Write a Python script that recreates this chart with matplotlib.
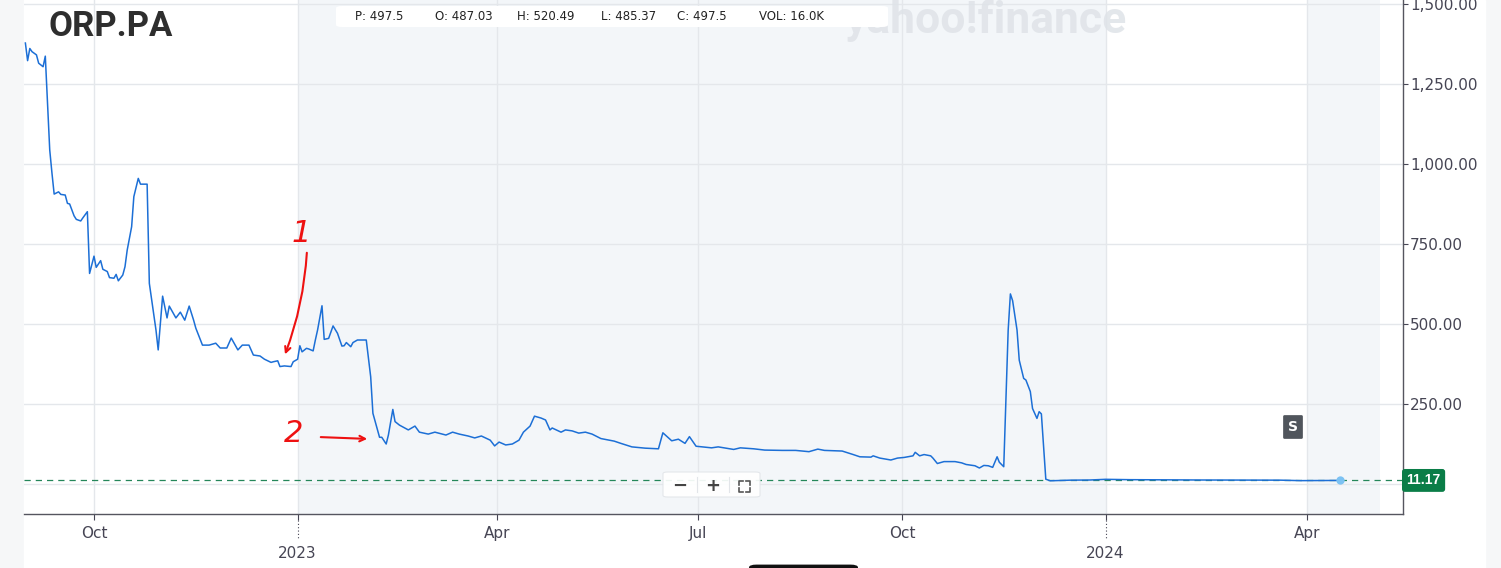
import matplotlib
matplotlib.use("Agg")
import matplotlib.pyplot as plt
import matplotlib.dates as mdates
from matplotlib.patches import FancyBboxPatch, Rectangle
from matplotlib.lines import Line2D
from matplotlib.transforms import blended_transform_factory
import pandas as pd

# ORP.PA daily close
dates = [
    "2022-08-31", "2022-09-01", "2022-09-02", "2022-09-03", "2022-09-05", "2022-09-06",
    "2022-09-08", "2022-09-09", "2022-09-11", "2022-09-12", "2022-09-13", "2022-09-15",
    "2022-09-16", "2022-09-18", "2022-09-19", "2022-09-20", "2022-09-22", "2022-09-23",
    "2022-09-25", "2022-09-26", "2022-09-28", "2022-09-29", "2022-10-01", "2022-10-02",
    "2022-10-04", "2022-10-05", "2022-10-07", "2022-10-08", "2022-10-10", "2022-10-11",
    "2022-10-12", "2022-10-14", "2022-10-15", "2022-10-16", "2022-10-18", "2022-10-19",
    "2022-10-21", "2022-10-22", "2022-10-25", "2022-10-26", "2022-10-29", "2022-10-30",
    "2022-11-01", "2022-11-03", "2022-11-04", "2022-11-07", "2022-11-09", "2022-11-11",
    "2022-11-13", "2022-11-15", "2022-11-16", "2022-11-19", "2022-11-22", "2022-11-25",
    "2022-11-27", "2022-11-30", "2022-12-02", "2022-12-05", "2022-12-07", "2022-12-10",
    "2022-12-12", "2022-12-15", "2022-12-17", "2022-12-20", "2022-12-21", "2022-12-23",
    "2022-12-24", "2022-12-26", "2022-12-29", "2022-12-30", "2023-01-01", "2023-01-02",
    "2023-01-03", "2023-01-05", "2023-01-06", "2023-01-08", "2023-01-09", "2023-01-10",
    "2023-01-12", "2023-01-13", "2023-01-15", "2023-01-17", "2023-01-19", "2023-01-21",
    "2023-01-22", "2023-01-23", "2023-01-25", "2023-01-26", "2023-01-28", "2023-02-01",
    "2023-02-03", "2023-02-04", "2023-02-06", "2023-02-07", "2023-02-08", "2023-02-10",
    "2023-02-11", "2023-02-13", "2023-02-14", "2023-02-16", "2023-02-20", "2023-02-23",
    "2023-02-25", "2023-03-01", "2023-03-04", "2023-03-09", "2023-03-12", "2023-03-15",
    "2023-03-19", "2023-03-22", "2023-03-25", "2023-03-29", "2023-03-31", "2023-04-02",
    "2023-04-05", "2023-04-08", "2023-04-11", "2023-04-13", "2023-04-16", "2023-04-18",
    "2023-04-21", "2023-04-23", "2023-04-25", "2023-04-26", "2023-04-30", "2023-05-02",
    "2023-05-05", "2023-05-08", "2023-05-11", "2023-05-14", "2023-05-18", "2023-05-24",
    "2023-05-27", "2023-06-01", "2023-06-07", "2023-06-13", "2023-06-15", "2023-06-19",
    "2023-06-22", "2023-06-25", "2023-06-27", "2023-06-30", "2023-07-03", "2023-07-07",
    "2023-07-10", "2023-07-17", "2023-07-20", "2023-07-26", "2023-07-31", "2023-08-08",
    "2023-08-14", "2023-08-20", "2023-08-24", "2023-08-27", "2023-09-04", "2023-09-09",
    "2023-09-12", "2023-09-17", "2023-09-18", "2023-09-21", "2023-09-26", "2023-09-29",
    "2023-10-02", "2023-10-06", "2023-10-07", "2023-10-09", "2023-10-11", "2023-10-14",
    "2023-10-15", "2023-10-17", "2023-10-20", "2023-10-25", "2023-10-28", "2023-10-30",
    "2023-11-03", "2023-11-05", "2023-11-07", "2023-11-09", "2023-11-11", "2023-11-13",
    "2023-11-14", "2023-11-16", "2023-11-18", "2023-11-19", "2023-11-20", "2023-11-22",
    "2023-11-23", "2023-11-25", "2023-11-26", "2023-11-28", "2023-11-29", "2023-12-01",
    "2023-12-02", "2023-12-03", "2023-12-05", "2023-12-07", "2023-12-16", "2023-12-25",
    "2024-01-01", "2024-01-12", "2024-01-25", "2024-02-13", "2024-03-02", "2024-03-20",
    "2024-03-29", "2024-04-07", "2024-04-16",
]
prices = [
    1378, 1323, 1361, 1351, 1341, 1315,
    1304, 1337, 1044, 972, 906, 913,
    905, 903, 877, 875, 838, 827,
    822, 832, 851, 658, 712, 677,
    698, 671, 664, 645, 643, 655,
    635, 653, 679, 731, 804, 898,
    955, 937, 937, 627, 481, 419,
    587, 519, 556, 519, 537, 512,
    556, 512, 487, 434, 434, 440,
    425, 425, 456, 419, 434, 434,
    403, 400, 390, 380, 382, 385,
    367, 369, 367, 382, 390, 432,
    413, 424, 422, 416, 450, 481,
    557, 452, 455, 494, 471, 431,
    432, 442, 429, 442, 450, 450,
    335, 221, 171, 146, 146, 125,
    153, 233, 195, 184, 169, 181,
    162, 156, 162, 153, 162, 156,
    150, 144, 150, 137, 119, 131,
    122, 125, 137, 162, 181, 212,
    206, 200, 169, 175, 162, 169,
    166, 159, 162, 156, 142, 134,
    127, 116, 112, 110, 160, 135,
    140, 127, 148, 118, 116, 113,
    116, 108, 113, 110, 106, 105,
    105, 101, 109, 105, 103, 92,
    85, 84, 88, 81, 75, 81,
    83, 88, 99, 88, 92, 88,
    81, 64, 70, 70, 66, 61,
    57, 50, 58, 57, 52, 85,
    68, 54, 481, 594, 573, 481,
    387, 330, 325, 289, 236, 205,
    226, 219, 15, 10, 12, 12.5,
    14.6, 13.5, 13, 12.5, 12.2, 12,
    10.5, 10.8, 11.17,
]
last_price = 11.17

month_ticks = ["2022-10-01", "2023-04-01", "2023-07-01", "2023-10-01", "2024-04-01"]
month_labels = ["Oct", "Apr", "Jul", "Oct", "Apr"]
year_ticks = ["2023-01-01", "2024-01-01"]
year_labels = ["2023", "2024"]
y_ticks = [250, 500, 750, 1000, 1250, 1500]

quote = [("P:", "497.5"), ("O:", "487.03"), ("H:", "520.49"),
         ("L:", "485.37"), ("C:", "497.5"), ("VOL:", "16.0K")]

W, H = 1501, 568
TXT = "#464554"
GRID = "#e4e7eb"


def fx(x):
    return x / W


def fy(y):
    return 1 - y / H


fig = plt.figure(figsize=(W / 100, H / 100), dpi=100, facecolor="#f6f7f8")
fig.patches.append(Rectangle((fx(24), 0), fx(1485 - 24), 1, transform=fig.transFigure,
                             color="white", zorder=-5))

ax = fig.add_axes([fx(24), (H - 514) / H, fx(1379), 514 / H])
ax.set_facecolor("white")

t = pd.to_datetime(dates)

# light bands (year 2023 and current period)
ax.axvspan(pd.Timestamp("2023-01-01"), pd.Timestamp("2024-01-01"), color="#f3f6f9", zorder=0, lw=0)
ax.axvspan(pd.Timestamp("2024-04-01"), pd.Timestamp("2024-05-04"), color="#f3f6f9", zorder=0, lw=0)

ax.plot(t, prices, color="#1c6fd6", lw=1.1, zorder=3)
ax.plot(t[-1:], prices[-1:], "o", ms=6, color="#7cc2f3", mec="none", zorder=4)
ax.axhline(last_price, color="#25875a", lw=0.9, ls=(0, (5, 4)), zorder=2)
ax.axhline(0, color=GRID, lw=1, zorder=1)

# axis scale: Oct 1 2022 -> px 94, Apr 1 2024 -> px 1307
anchor = mdates.date2num(pd.Timestamp("2022-10-01"))
ppd = (1307 - 94) / 548
ax.set_xlim(anchor - (94 - 24) / ppd, anchor + (1403 - 94) / ppd)
ax.set_ylim(-93.75, 1512.5)

ax.set_axisbelow(True)
ax.yaxis.tick_right()
ax.set_yticks(y_ticks)
ax.set_yticklabels([f"{v:,.2f}" for v in y_ticks])
ax.set_xticks(pd.to_datetime(year_ticks))
ax.set_xticklabels(year_labels)
ax.set_xticks(pd.to_datetime(month_ticks), minor=True)
ax.set_xticklabels(month_labels, minor=True)
ax.yaxis.set_minor_locator(matplotlib.ticker.NullLocator())

ax.tick_params(axis="y", length=3.5, pad=1.5, colors=TXT, labelsize=11, width=0.8)
ax.tick_params(axis="x", which="minor", length=4.3, pad=4, colors=TXT, labelsize=11, width=0.8)
ax.tick_params(axis="x", which="major", length=4.3, pad=19, colors=TXT, labelsize=11, width=0.8)
ax.grid(axis="x", which="both", color=GRID, lw=1)
ax.grid(axis="y", color=GRID, lw=1)

for s in ["left", "top"]:
    ax.spines[s].set_visible(False)
for s in ["right", "bottom"]:
    ax.spines[s].set_color("#55555f")
    ax.spines[s].set_linewidth(1)

# dotted extension below the year ticks
bt = blended_transform_factory(ax.transData, ax.transAxes)
for d in pd.to_datetime(year_ticks):
    ax.plot([d, d], [-0.012, -0.05], transform=bt, color=TXT, lw=0.8, ls=(0, (1, 2)),
            clip_on=False)

# last price tag
tb = blended_transform_factory(ax.transAxes, ax.transData)
ax.text(1.0025, last_price, f"{last_price:.2f}", transform=tb, ha="left", va="center",
        color="white", fontsize=10, fontweight="bold", family="Liberation Sans",
        bbox=dict(boxstyle="round,pad=0.32,rounding_size=0.2", fc="#0a7d47", ec="none"),
        zorder=6, clip_on=False)

# title and watermark
fig.text(fx(48), fy(26), "ORP.PA", fontsize=25, fontweight="bold", color="#2e2e2e",
         family="Roboto", ha="left", va="center")
fig.text(fx(845), fy(33), "yahoo!finance", fontsize=32, fontweight="bold", color="#dfe3e8",
         family="Roboto", ha="left", va="baseline", zorder=1, alpha=0.85)

# quote box
fig.patches.append(FancyBboxPatch((fx(336), fy(27)), fx(888 - 336), 21 / H,
                                  boxstyle="round,pad=0,rounding_size=0.004",
                                  transform=fig.transFigure, fc="white", ec="none", zorder=2))
xs = [355, 435, 517, 601, 677, 759]
for x, (k, v) in zip(xs, quote):
    fig.text(fx(x), fy(17), f"{k} {v}", fontsize=8.5, color="#222222", ha="left",
             va="center", zorder=3)

# zoom controls
fig.patches.append(FancyBboxPatch((fx(663), fy(497)), fx(97), 25 / H,
                                  boxstyle="round,pad=0,rounding_size=0.003",
                                  transform=fig.transFigure, fc="white", ec="#e2e5e9",
                                  lw=0.8, alpha=0.92, zorder=5))
for x in (697, 729):
    fig.add_artist(Line2D([fx(x), fx(x)], [fy(492), fy(477)], color="#e2e5e9", lw=0.8,
                          zorder=6))
fig.text(fx(680), fy(486), "\u2212", fontsize=13, fontweight="bold", color="#444444",
         ha="center", va="center", zorder=6)
fig.text(fx(713), fy(486), "+", fontsize=13, fontweight="bold", color="#444444",
         ha="center", va="center", zorder=6)
for cx, cy, dx, dy in [(739, 481, 1, 1), (750, 481, -1, 1), (739, 492, 1, -1), (750, 492, -1, -1)]:
    fig.add_artist(Line2D([fx(cx + 4 * dx), fx(cx), fx(cx)],
                          [fy(cy), fy(cy), fy(cy + 4 * dy)],
                          color="#555555", lw=1.2, zorder=6))

# split badge
fig.text(fx(1293), fy(427), "S", fontsize=10, fontweight="bold", color="white",
         ha="center", va="center",
         bbox=dict(boxstyle="round,pad=0.35,rounding_size=0.1", fc="#50555c", ec="none"))

# hand-drawn notes
fig.text(fx(301), fy(234), "1", fontsize=22, color="#ee1111", ha="center", va="center",
         family="DejaVu Sans", style="italic")
ax.annotate("", xy=(284, H - 357), xytext=(307, H - 250), xycoords="figure pixels",
            textcoords="figure pixels",
            arrowprops=dict(arrowstyle="->", color="#ee1111", lw=1.5,
                            connectionstyle="arc3,rad=-0.08"))
fig.text(fx(294), fy(434), "2", fontsize=22, color="#ee1111", ha="center", va="center",
         family="DejaVu Sans", style="italic")
ax.annotate("", xy=(370, H - 439), xytext=(318, H - 437), xycoords="figure pixels",
            textcoords="figure pixels",
            arrowprops=dict(arrowstyle="->", color="#ee1111", lw=1.5))

# bit of a page element peeking in at the bottom
fig.patches.append(FancyBboxPatch((fx(749), -0.02), fx(109), 0.026,
                                  boxstyle="round,pad=0,rounding_size=0.005",
                                  transform=fig.transFigure, fc="#111111", ec="none", zorder=5))

fig.savefig("out.png", dpi=100, facecolor=fig.get_facecolor())
